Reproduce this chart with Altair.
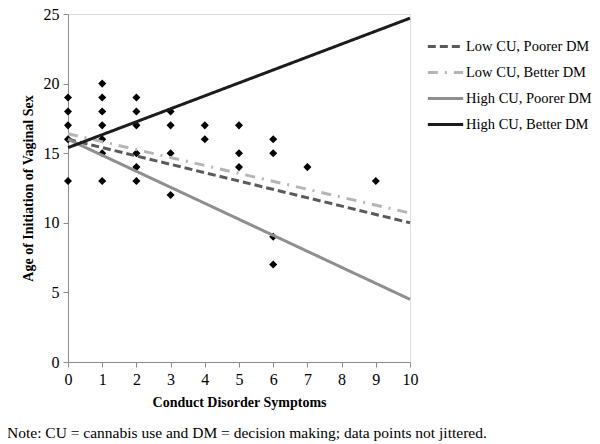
import altair as alt
import pandas as pd

# Scatter data (conduct disorder symptoms, age of initiation)
pts_x = [0, 0, 0, 0, 0,
         1, 1, 1, 1, 1, 1, 1,
         2, 2, 2, 2, 2, 2,
         3, 3, 3, 3,
         4, 4,
         5, 5, 5,
         6, 6, 6, 6,
         7, 9]
pts_y = [19, 18, 17, 16, 13,
         20, 19, 18, 17, 16, 15, 13,
         19, 18, 17, 15, 14, 13,
         18, 17, 15, 12,
         17, 16,
         17, 15, 14,
         16, 15, 9, 7,
         14, 13]

# Regression lines (value at x=0 and x=10)
series = ["Low CU, Poorer DM", "Low CU, Better DM", "High CU, Poorer DM", "High CU, Better DM"]
start_vals = [16.0, 16.4, 16.0, 15.4]
end_vals = [10.0, 10.7, 4.5, 24.7]
line_x = [0, 10]

colors = ["#5a5a5a", "#b5b5b5", "#8f8f8f", "#1c1c1c"]
dashes = [[8, 4], [10, 7, 2, 7], [1, 0], [1, 0]]

pts = pd.DataFrame({"x": pts_x, "y": pts_y})
rows = []
for s, a, b in zip(series, start_vals, end_vals):
    rows.append({"series": s, "x": line_x[0], "y": a})
    rows.append({"series": s, "x": line_x[1], "y": b})
lines = pd.DataFrame(rows)

font = "Liberation Serif"

xscale = alt.Scale(domain=[0, 10], nice=False)
yscale = alt.Scale(domain=[0, 25], nice=False)

xaxis = alt.Axis(values=list(range(0, 11)), title="Conduct Disorder Symptoms",
                 grid=False, domainColor="#8c8c8c", tickColor="#8c8c8c", tickSize=5,
                 labelOverlap=False, labelFlush=False,
                 labelFont=font, labelFontSize=16, labelColor="#000", labelPadding=4,
                 titleFont=font, titleFontSize=14, titleFontWeight="bold", titleColor="#000",
                 titlePadding=8)
yaxis = alt.Axis(values=[0, 5, 10, 15, 20, 25], title="Age of Initiation of Vaginal Sex",
                 grid=False, domainColor="#8c8c8c", tickColor="#8c8c8c", tickSize=5,
                 labelOverlap=False, labelFlush=False,
                 labelFont=font, labelFontSize=16, labelColor="#000", labelPadding=4,
                 titleFont=font, titleFontSize=14, titleFontWeight="bold", titleColor="#000",
                 titlePadding=8)

points = alt.Chart(pts).mark_point(shape="diamond", filled=True, color="#000", size=65, opacity=1).encode(
    x=alt.X("x:Q", scale=xscale, axis=xaxis),
    y=alt.Y("y:Q", scale=yscale, axis=yaxis),
)

legend = alt.Legend(title=None, orient="none", legendX=358, legendY=13,
                    symbolType="stroke", symbolSize=1250, symbolStrokeWidth=3,
                    labelFont=font, labelFontSize=14.5, labelColor="#000",
                    rowPadding=-9, labelOffset=1)

line_chart = alt.Chart(lines).mark_line(strokeWidth=3).encode(
    x=alt.X("x:Q", scale=xscale, axis=xaxis),
    y=alt.Y("y:Q", scale=yscale, axis=yaxis),
    color=alt.Color("series:N", scale=alt.Scale(domain=series, range=colors), legend=legend),
    strokeDash=alt.StrokeDash("series:N", scale=alt.Scale(domain=series, range=dashes), legend=legend),
    detail="series:N",
)

chart = alt.layer(points, line_chart).properties(
    width=342,
    height=348,
    autosize=alt.AutoSizeParams(type="none"),
    padding={"left": 60, "top": 6, "right": 182, "bottom": 82},
    title=alt.TitleParams(
        "Note: CU = cannabis use and DM = decision making; data points not jittered.",
        orient="bottom", anchor="start", dx=-14, offset=17,
        font=font, fontSize=15.5, fontWeight="normal", color="#000",
    ),
).configure_view(stroke=None).configure(background="white")

chart.save("out.html", embed_options={"renderer": "svg", "actions": False})
